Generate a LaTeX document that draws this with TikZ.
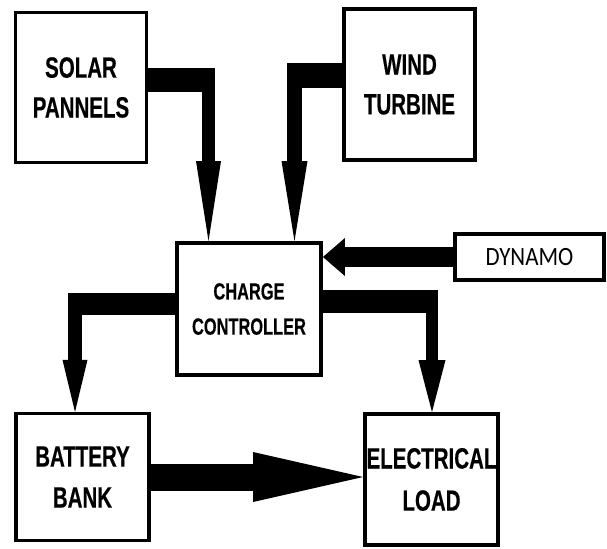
\documentclass[tikz,border=0pt]{standalone}
\usepackage{fontspec}
\newfontfamily\blockfont{Liberation Sans}[FakeStretch=0.7, BoldFeatures={FakeBold=0.4}]
\newfontfamily\dynamofont{Carlito}[FakeStretch=0.87]
\usetikzlibrary{arrows.meta,positioning}

\begin{document}
\begin{tikzpicture}[
    x=0.03cm, y=-0.03cm,
    block/.style={draw, line width=3pt, align=center, inner sep=0pt, font=\blockfont\bfseries\fontsize{25pt}{34pt}\selectfont},
    small/.style={font=\blockfont\bfseries\fontsize{20pt}{30pt}\selectfont},
    stem/.style={line width=#1, line join=miter},
    band/.style={line width=#1}
]
\useasboundingbox (0,0) rectangle (607,548);

% Sources (top)
\node[block, minimum width=3.92cm, minimum height=4.49cm] (solar) at (81,87.5) {SOLAR\\PANNELS};
\node[block, minimum width=3.94cm, minimum height=4.54cm] (wind) at (409.5,84.5) {WIND\\TURBINE};
\node[block, minimum width=4.48cm, minimum height=1.39cm, font=\dynamofont\fontsize{22.5pt}{26pt}\selectfont] (dynamo) at (529.5,257) {DYNAMO};

% Controller (middle)
\node[block, small, minimum width=4.33cm, minimum height=3.97cm] (charge) at (249,309) {CHARGE\\CONTROLLER};

% Outputs (bottom)
\node[block, minimum width=4.0cm, minimum height=3.8cm, font=\blockfont\bfseries\fontsize{25pt}{35pt}\selectfont] (battery) at (82.5,477) {BATTERY\\BANK};
\node[block, minimum width=4.0cm, minimum height=3.94cm, font=\blockfont\bfseries\fontsize{25pt}{36pt}\selectfont] (load) at (431.5,479.5) {ELECTRICAL\\LOAD};

% Bends
\coordinate (solarbend) at (208.5,80);
\coordinate (windbend) at (294.5,75.5);
\coordinate (batterybend) at (75,304);
\coordinate (loadbend) at (432,301.5);

% Sources to controller
\draw[stem=0.39cm, -{Triangle[length=2.4cm, width=0.75cm, line width=0pt]}] (solar.east |- solarbend) -| (solarbend |- charge.north);
\draw[band=0.72cm] (solar.east |- solarbend) -- ([xshift=0.195cm]solarbend);
\draw[stem=0.45cm, -{Triangle[length=2.4cm, width=0.78cm, line width=0pt]}] (wind.west |- windbend) -| (windbend |- charge.north);
\draw[band=0.75cm] (wind.west |- windbend) -- ([xshift=-0.225cm]windbend);
\draw[stem=0.6cm, -{Triangle[length=0.66cm, width=1.14cm, line width=0pt]}] (dynamo.west) -- (dynamo.west -| charge.east);

% Controller to outputs
\draw[stem=0.42cm, -{Triangle[length=1.56cm, width=0.75cm, line width=0pt]}] (charge.west |- batterybend) -| (batterybend |- battery.north);
\draw[band=0.66cm] (charge.west |- batterybend) -- ([xshift=-0.21cm]batterybend);
\draw[stem=0.36cm, -{Triangle[length=1.56cm, width=0.81cm, line width=0pt]}] (charge.east |- loadbend) -| (loadbend |- load.north);
\draw[band=0.69cm] (charge.east |- loadbend) -- ([xshift=0.18cm]loadbend);

% Battery to load
\draw[stem=0.81cm, -{Triangle[length=3.3cm, width=1.5cm, line width=0pt]}] (battery.east) -- (battery.east -| load.west);

\end{tikzpicture}
\end{document}
